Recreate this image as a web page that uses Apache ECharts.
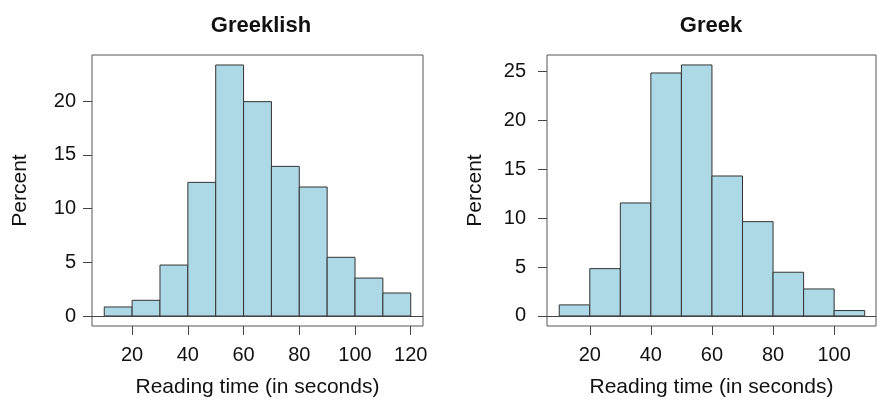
<!DOCTYPE html>
<html lang="en">
<head>
<meta charset="UTF-8">
<title>Reading time</title>
<script src="https://cdn.jsdelivr.net/npm/echarts@6/dist/echarts.min.js"></script>
<style>
    html, body { margin: 0; padding: 0; background: #fff; }
    #main { width: 877px; height: 400px; }
</style>
</head>
<body>
<div id="main"></div>
<script>
    // bins: 10 s wide, start of each bin
    var binWidth = 10;
    var greeklishBins = [10, 20, 30, 40, 50, 60, 70, 80, 90, 100, 110];
    var greeklishPct = [0.84, 1.46, 4.74, 12.43, 23.35, 19.94, 13.92, 12.0, 5.46, 3.53, 2.14];
    var greekBins = [10, 20, 30, 40, 50, 60, 70, 80, 90, 100];
    var greekPct = [1.13, 4.84, 11.56, 24.86, 25.68, 14.32, 9.65, 4.47, 2.76, 0.55];

    var greeklishXTicks = [20, 40, 60, 80, 100, 120];
    var greekXTicks = [20, 40, 60, 80, 100];
    var greeklishYTicks = [0, 5, 10, 15, 20];
    var greekYTicks = [0, 5, 10, 15, 20, 25];

    var font = '"Liberation Sans", Arial, sans-serif';

    function toRows(bins, pct) {
        return bins.map(function (s, i) { return [s, s + binWidth, pct[i]]; });
    }

    function renderBar(params, api) {
        var top = api.coord([api.value(0), api.value(2)]);
        var bottom = api.coord([api.value(1), 0]);
        return {
            type: 'rect',
            shape: { x: top[0], y: top[1], width: bottom[0] - top[0], height: bottom[1] - top[1] },
            style: { fill: '#add8e6', stroke: '#333333', lineWidth: 1 }
        };
    }

    function xAxisFor(idx, min, max, ticks) {
        return {
            type: 'value', gridIndex: idx, min: min, max: max,
            name: 'Reading time (in seconds)', nameLocation: 'middle', nameGap: 51,
            nameTextStyle: { fontFamily: font, fontSize: 21, color: '#111' },
            axisLine: { show: false, onZero: false },
            axisTick: { show: true, length: 9, customValues: ticks, lineStyle: { color: '#444' } },
            axisLabel: { customValues: ticks, margin: 19, fontFamily: font, fontSize: 20, color: '#111' },
            splitLine: { show: false }
        };
    }

    function yAxisFor(idx, min, max, ticks, margin) {
        return {
            type: 'value', gridIndex: idx, min: min, max: max,
            name: 'Percent', nameLocation: 'middle', nameGap: 61,
            nameTextStyle: { fontFamily: font, fontSize: 21, color: '#111' },
            axisLine: { show: false, onZero: false },
            axisTick: { show: true, length: 9, customValues: ticks, lineStyle: { color: '#444' } },
            axisLabel: { customValues: ticks, margin: margin, fontFamily: font, fontSize: 20, color: '#111' },
            splitLine: { show: false }
        };
    }

    function zeroLine() {
        return {
            silent: true, symbol: 'none', label: { show: false },
            lineStyle: { color: '#444', type: 'solid', width: 1 },
            data: [{ yAxis: 0 }]
        };
    }

    var myChart = echarts.init(document.getElementById('main'));
    var option = {
        animation: false,
        title: [
            { text: 'Greeklish', left: 256, top: 10, textAlign: 'center',
              textStyle: { fontFamily: font, fontSize: 22, fontWeight: 'bold', color: '#111' } },
            { text: 'Greek', left: 706, top: 10, textAlign: 'center',
              textStyle: { fontFamily: font, fontSize: 22, fontWeight: 'bold', color: '#111' } }
        ],
        grid: [
            { left: 92, top: 55, width: 331, height: 271, show: true, borderColor: '#555', borderWidth: 1,
              outerBoundsMode: 'none', containLabel: false },
            { left: 547, top: 55, width: 329, height: 271, show: true, borderColor: '#555', borderWidth: 1,
              outerBoundsMode: 'none', containLabel: false }
        ],
        xAxis: [
            xAxisFor(0, 5.6, 124.4, greeklishXTicks),
            xAxisFor(1, 6, 113.7, greekXTicks)
        ],
        yAxis: [
            yAxisFor(0, -0.93, 24.28, greeklishYTicks, 16),
            yAxisFor(1, -1.03, 26.7, greekYTicks, 21)
        ],
        series: [
            { type: 'custom', xAxisIndex: 0, yAxisIndex: 0, renderItem: renderBar,
              encode: { x: [0, 1], y: 2 }, data: toRows(greeklishBins, greeklishPct),
              markLine: zeroLine() },
            { type: 'custom', xAxisIndex: 1, yAxisIndex: 1, renderItem: renderBar,
              encode: { x: [0, 1], y: 2 }, data: toRows(greekBins, greekPct),
              markLine: zeroLine() }
        ]
    };
    myChart.setOption(option);
</script>
</body>
</html>
